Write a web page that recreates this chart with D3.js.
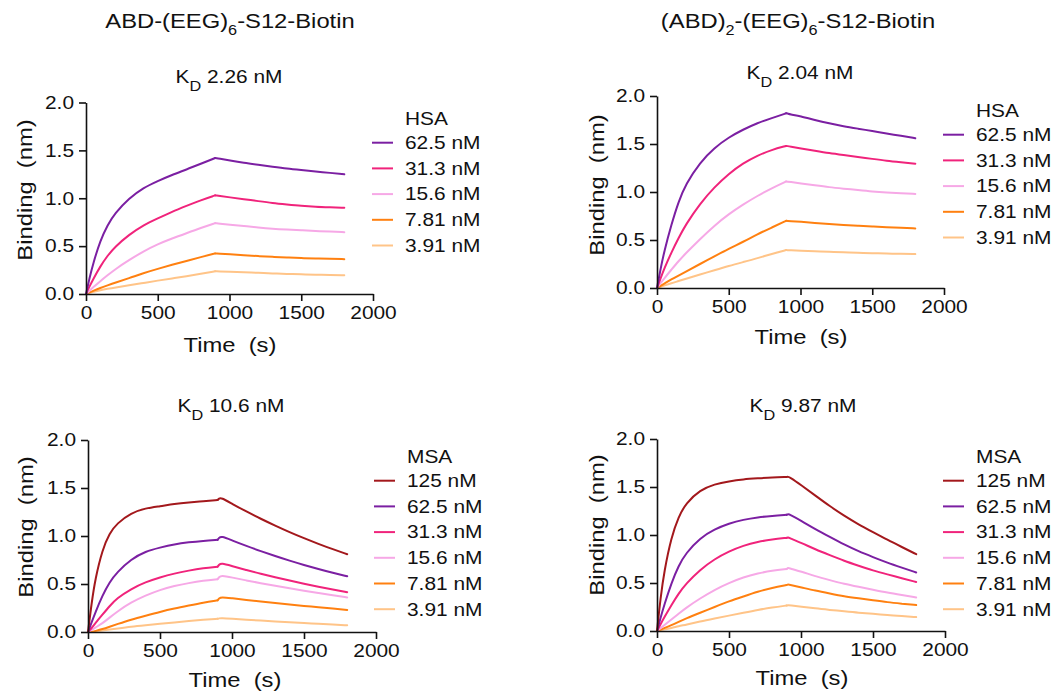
<!DOCTYPE html>
<html><head><meta charset="utf-8">
<script src="https://cdn.jsdelivr.net/npm/d3@7/dist/d3.min.js"></script>
<style>
body{margin:0;background:#fff;}
text{font-family:Arial,"Liberation Sans",Helvetica,sans-serif;fill:#111;}
</style></head>
<body><svg id="chart" width="1060" height="698"></svg>
<script>
// ---------------- DATA ----------------
const times = [0,25,50,100,150,200,300,400,500,600,700,800,900,910,925,1000,1100,1200,1300,1400,1500,1600,1700,1800];
const switchTime = 900;
const xTicks = [0,500,1000,1500,2000];
const yTicks = [0,0.5,1.0,1.5,2.0];
const hsaLabels = ["62.5 nM","31.3 nM","15.6 nM","7.81 nM","3.91 nM"];
const msaLabels = ["125 nM","62.5 nM","31.3 nM","15.6 nM","7.81 nM","3.91 nM"];
const hsaColors = ["#7b1fa2","#f0237b","#f6a8e6","#ff8010","#ffc488"];
const msaColors = ["#a3181c","#7b1fa2","#f0237b","#f6a8e6","#ff8010","#ffc488"];

// Panel A: ABD-(EEG)6-S12-Biotin, HSA
const A_625 = [0,0.17,0.32,0.56,0.72,0.84,1.00,1.11,1.18,1.245,1.30,1.36,1.42,1.418,1.415,1.395,1.37,1.35,1.33,1.31,1.295,1.28,1.265,1.25];
const A_313 = [0,0.08,0.155,0.29,0.40,0.49,0.62,0.72,0.79,0.86,0.92,0.98,1.03,1.028,1.025,1.01,0.99,0.97,0.95,0.935,0.92,0.91,0.905,0.90];
const A_156 = [0,0.035,0.07,0.135,0.195,0.255,0.355,0.445,0.52,0.58,0.635,0.69,0.74,0.738,0.735,0.725,0.71,0.695,0.682,0.673,0.665,0.658,0.652,0.646];
const A_781 = [0,0.017,0.033,0.063,0.09,0.117,0.165,0.218,0.263,0.305,0.345,0.385,0.424,0.423,0.421,0.415,0.405,0.396,0.388,0.381,0.375,0.37,0.367,0.364];
const A_391 = [0,0.012,0.022,0.04,0.054,0.067,0.09,0.115,0.14,0.163,0.185,0.21,0.238,0.237,0.236,0.233,0.227,0.221,0.215,0.21,0.205,0.201,0.198,0.195];

// Panel B: (ABD)2-(EEG)6-S12-Biotin, HSA
const B_625 = [0,0.20,0.38,0.66,0.90,1.08,1.31,1.46,1.57,1.65,1.72,1.77,1.82,1.818,1.81,1.79,1.75,1.715,1.685,1.66,1.635,1.61,1.585,1.56];
const B_313 = [0,0.10,0.20,0.37,0.52,0.66,0.88,1.05,1.19,1.30,1.38,1.44,1.48,1.478,1.475,1.455,1.43,1.405,1.385,1.365,1.345,1.325,1.31,1.295];
const B_156 = [0,0.05,0.10,0.19,0.28,0.36,0.51,0.65,0.77,0.87,0.96,1.04,1.11,1.108,1.105,1.09,1.07,1.05,1.035,1.02,1.005,0.995,0.988,0.98];
const B_781 = [0,0.023,0.045,0.09,0.13,0.17,0.25,0.33,0.41,0.48,0.56,0.63,0.70,0.699,0.697,0.69,0.678,0.667,0.657,0.648,0.64,0.633,0.627,0.62];
const B_391 = [0,0.012,0.025,0.05,0.072,0.095,0.14,0.185,0.23,0.27,0.31,0.355,0.395,0.394,0.393,0.389,0.383,0.377,0.372,0.367,0.363,0.359,0.356,0.353];

// Panel C: ABD-(EEG)6-S12-Biotin, MSA
const C_125 = [0,0.30,0.55,0.86,1.03,1.13,1.24,1.29,1.31,1.335,1.35,1.362,1.375,1.39,1.40,1.336,1.255,1.179,1.108,1.04,0.977,0.918,0.862,0.81];
const C_625 = [0,0.10,0.20,0.38,0.52,0.62,0.76,0.84,0.88,0.915,0.935,0.95,0.96,0.98,1.00,0.954,0.896,0.842,0.791,0.743,0.698,0.656,0.616,0.58];
const C_313 = [0,0.04,0.09,0.18,0.27,0.35,0.45,0.52,0.57,0.61,0.64,0.665,0.68,0.70,0.72,0.687,0.645,0.606,0.57,0.535,0.503,0.472,0.443,0.415];
const C_156 = [0,0.02,0.045,0.09,0.15,0.21,0.31,0.38,0.44,0.48,0.51,0.535,0.55,0.57,0.59,0.568,0.537,0.508,0.481,0.455,0.43,0.407,0.384,0.36];
const C_781 = [0,0,0.01,0.03,0.055,0.08,0.13,0.17,0.21,0.245,0.275,0.305,0.33,0.35,0.365,0.351,0.334,0.317,0.301,0.286,0.272,0.258,0.244,0.23];
const C_391 = [0,0,0.005,0.015,0.025,0.035,0.055,0.07,0.085,0.10,0.115,0.127,0.138,0.142,0.145,0.138,0.128,0.119,0.11,0.101,0.093,0.085,0.077,0.07];

// Panel D: (ABD)2-(EEG)6-S12-Biotin, MSA
const D_125 = [0,0.35,0.62,0.98,1.19,1.33,1.47,1.53,1.56,1.58,1.59,1.60,1.605,1.607,1.60,1.52,1.41,1.30,1.20,1.11,1.03,0.95,0.875,0.80];
const D_625 = [0,0.14,0.27,0.50,0.68,0.81,0.97,1.06,1.12,1.16,1.185,1.20,1.21,1.218,1.21,1.15,1.06,0.98,0.90,0.83,0.77,0.71,0.66,0.61];
const D_313 = [0,0.07,0.14,0.27,0.39,0.49,0.64,0.75,0.83,0.89,0.93,0.955,0.97,0.978,0.965,0.92,0.85,0.79,0.73,0.68,0.63,0.59,0.55,0.51];
const D_156 = [0,0.03,0.06,0.12,0.18,0.24,0.34,0.43,0.50,0.56,0.60,0.63,0.645,0.66,0.65,0.62,0.57,0.53,0.49,0.46,0.43,0.40,0.375,0.35];
const D_781 = [0,0.015,0.03,0.06,0.095,0.13,0.19,0.25,0.31,0.36,0.41,0.45,0.48,0.485,0.48,0.455,0.42,0.39,0.36,0.34,0.32,0.30,0.285,0.27];
const D_391 = [0,0.008,0.016,0.03,0.05,0.065,0.10,0.13,0.16,0.19,0.22,0.245,0.265,0.27,0.268,0.255,0.235,0.22,0.205,0.19,0.18,0.165,0.155,0.145];

const kdValues = ["2.26 nM","2.04 nM","10.6 nM","9.87 nM"];

// ---------------- LAYOUT ----------------
const SX = 1.16; // horizontal text stretch
const panels = [
  {series:[A_625,A_313,A_156,A_781,A_391], labels:hsaLabels, colors:hsaColors, head:"HSA", kd:kdValues[0],
   x0:86, x1:373, y0:294, y1:102.5, kdX:229, kdY:83, legX:372, legY:125,
   ytX:32, ytY:190, xtX:230, xtY:352},
  {series:[B_625,B_313,B_156,B_781,B_391], labels:hsaLabels, colors:hsaColors, head:"HSA", kd:kdValues[1],
   x0:657, x1:944, y0:288, y1:96, kdX:800, kdY:79, legX:943, legY:117,
   ytX:604, ytY:185, xtX:801, xtY:344},
  {series:[C_125,C_625,C_313,C_156,C_781,C_391], labels:msaLabels, colors:msaColors, head:"MSA", kd:kdValues[2],
   x0:88, x1:376, y0:632, y1:440, kdX:231, kdY:412, legX:374, legY:463,
   ytX:33, ytY:527, xtX:235, xtY:687},
  {series:[D_125,D_625,D_313,D_156,D_781,D_391], labels:msaLabels, colors:msaColors, head:"MSA", kd:kdValues[3],
   x0:657, x1:945, y0:631, y1:439, kdX:803, kdY:412, legX:943, legY:463,
   ytX:604, ytY:525, xtX:802, xtY:685}
];

const svg = d3.select("#chart");

function stretchedText(g, x, y, size, anchor, rot) {
  return g.append("text")
    .attr("transform", `translate(${x},${y})` + (rot ? ` rotate(${rot})` : "") + ` scale(${SX},1)`)
    .attr("font-size", size).attr("text-anchor", anchor || "start");
}

function titleWithSubs(x, y, parts) {
  const t = stretchedText(svg, x, y, 20.5, "middle");
  let shift = 0;
  parts.forEach(p => {
    const sp = t.append("tspan").text(p[0]);
    if (p[1]) { sp.attr("font-size", 14).attr("dy", 7 - shift); shift = 7; }
    else if (shift) { sp.attr("dy", -shift); shift = 0; }
  });
}
titleWithSubs(230, 28, [["ABD-(EEG)"],["6",1],["-S12-Biotin"]]);
titleWithSubs(798, 28, [["(ABD)"],["2",1],["-(EEG)"],["6",1],["-S12-Biotin"]]);

panels.forEach(p => {
  const g = svg.append("g");
  const x = d3.scaleLinear().domain([0,2000]).range([p.x0, p.x1]);
  const y = d3.scaleLinear().domain([0,2]).range([p.y0, p.y1]);

  const kt = stretchedText(g, p.kdX, p.kdY, 18, "middle");
  kt.append("tspan").text("K");
  kt.append("tspan").text("D").attr("font-size", 14).attr("dy", 8);
  kt.append("tspan").text(" " + p.kd).attr("dy", -8);

  // curves: association and dissociation phases drawn as smooth segments
  const line = d3.line().x(d => x(d[0])).y(d => y(d[1])).curve(d3.curveBasis);
  const curves = g.append("g");
  p.series.slice().reverse().forEach((vals, ri) => {
    const i = p.series.length - 1 - ri;
    const pts = times.map((t, j) => [t, vals[j]]);
    const assoc = pts.filter(d => d[0] <= switchTime);
    const dissoc = pts.filter(d => d[0] >= switchTime);
    [assoc, dissoc].forEach(seg => {
      curves.append("path").datum(seg).attr("d", line).attr("fill", "none")
        .attr("stroke", p.colors[i]).attr("stroke-width", 2)
        .attr("stroke-linejoin", "round").attr("stroke-linecap", "round");
    });
  });

  const yAxis = d3.axisLeft(y).tickValues(yTicks).tickFormat(d3.format(".1f"))
    .tickSize(7).tickPadding(5).tickSizeOuter(0);
  const xAxis = d3.axisBottom(x).tickValues(xTicks).tickFormat(d3.format("d"))
    .tickSize(7).tickPadding(5).tickSizeOuter(0);
  const ya = g.append("g").attr("transform", `translate(${p.x0},0)`).call(yAxis);
  const xa = g.append("g").attr("transform", `translate(0,${p.y0})`).call(xAxis);
  [ya, xa].forEach(a => {
    a.select(".domain").attr("stroke", "#111").attr("stroke-width", 1.6);
    a.selectAll(".tick line").attr("stroke", "#111").attr("stroke-width", 1.6);
    a.selectAll(".tick text").attr("font-size", 18).attr("fill", "#111")
      .attr("font-family", 'Arial,"Liberation Sans",sans-serif')
      .each(function() {
        const el = d3.select(this);
        const xv = +(el.attr("x") || 0);
        el.attr("x", xv / SX).attr("transform", `scale(${SX},1)`);
      });
  });

  stretchedText(g, p.ytX, p.ytY, 20.5, "middle", -90).text("Binding\u00a0\u00a0(nm)");
  stretchedText(g, p.xtX, p.xtY, 20.5, "middle").text("Time\u00a0\u00a0(s)");

  stretchedText(g, p.legX + 33, p.legY, 18, "start").text(p.head);
  p.labels.forEach((lab, i) => {
    const by = p.legY + 24 + i * 25.7;
    g.append("line").attr("x1", p.legX).attr("x2", p.legX + 21)
      .attr("y1", by - 6.3).attr("y2", by - 6.3)
      .attr("stroke", p.colors[i]).attr("stroke-width", 2);
    stretchedText(g, p.legX + 33, by, 18, "start").text(lab);
  });
});
</script></body></html>
